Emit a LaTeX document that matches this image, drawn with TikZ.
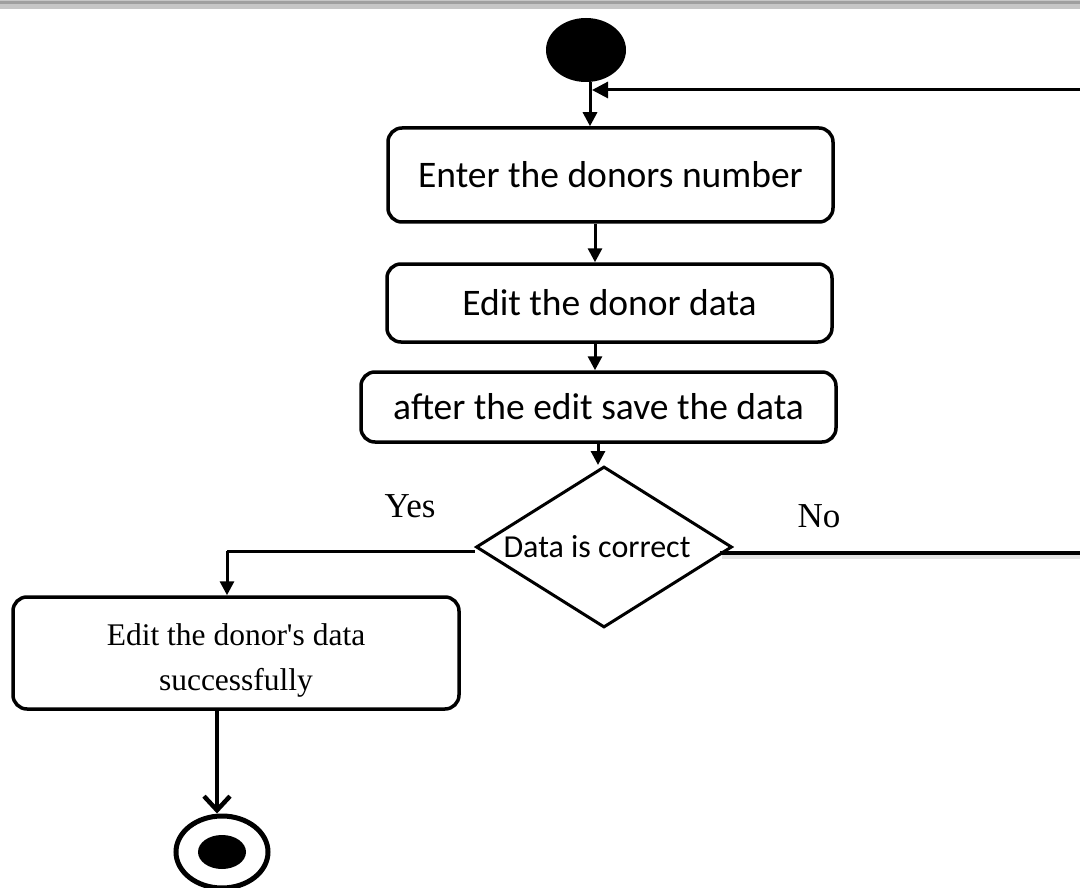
\documentclass[tikz,border=0pt]{standalone}
\usepackage{fontspec}
\setmainfont{Liberation Serif}
\newfontfamily\boxfont{Carlito}
\usetikzlibrary{shapes.geometric,arrows.meta,calc}
\tikzset{
  act/.style={draw=black, line width=3.5pt, rounded corners=14pt, fill=white,
    inner sep=0pt, align=center, font=\boxfont\fontsize{37.5}{44}\selectfont},
  flow/.style={line width=3pt, -{Triangle[length=14pt,width=14pt]}},
  plainline/.style={line width=3pt},
  decision/.style={draw=black, diamond, line width=3pt, shape aspect=1.6, inner sep=0pt,
    minimum width=256pt, minimum height=161pt, font=\boxfont\fontsize{32}{36}\selectfont},
  guard/.style={font=\fontsize{35}{38}\selectfont}
}
\begin{document}
\begin{tikzpicture}[x=1pt,y=-1pt]
\useasboundingbox (0,0) rectangle (1080,888);
\clip (0,0) rectangle (1080,888);
% top border band
\fill[gray!45] (0,0) rectangle (1080,9);
\fill[gray!75] (0,1) rectangle (1080,4);

\node[ellipse, fill=black, minimum width=80pt, minimum height=64pt, inner sep=0pt] (start) at (586,50) {};

\node[act, minimum width=445pt, minimum height=94pt] (b1) at (610.5,175) {Enter the donors number};
\node[act, minimum width=445pt, minimum height=78pt] (b2) at (609.5,303) {Edit the donor data};
\node[act, minimum width=475pt, minimum height=70pt] (b3) at (598.5,407) {after the edit save the data};
\node[decision] (d) at (604,547) {\hspace*{-14pt}Data is correct};
\node[act, minimum width=446pt, minimum height=112pt] (b4) at (236,653) {};
\node[align=center, inner sep=0pt, font=\fontsize{31.5}{45}\selectfont] (b4text) at (236,660) {Edit the donor\textquotesingle s data\\successfully};

\node[ellipse, draw=black, line width=5pt, minimum width=92pt, minimum height=72pt, inner sep=0pt] (end) at (222,852) {};
\node[ellipse, fill=black, minimum width=48pt, minimum height=34pt, inner sep=0pt] (endin) at (end.center) {};

% connectors
\draw[flow] (start.south -| 590,0) -- (b1.north -| 590,0);
\draw[flow] (b1.south -| 595,0) -- (b2.north -| 595,0);
\draw[flow] (b2.south -| 595,0) -- (b3.north -| 595,0);
\draw[flow] (b3.south -| 598,0) -- (d.north -| 598,0);

\coordinate (yesc) at (227,551);
\draw[plainline] (d.west |- yesc) -- (yesc);
\draw[flow] (yesc) -- (b4.north -| 227,0);

\coordinate (noend) at (1082,553);
\coordinate (nostart) at ($(d.east |- noend)+(-14,0)$);
\draw[line width=4pt, gray!22] ($(nostart)+(2,4)$) -- ($(noend)+(0,4)$);
\draw[line width=4pt] (nostart) -- (noend);

\coordinate (retstart) at (1082,90);
\draw[line width=3pt, -{Triangle[length=16pt,width=16pt]}] (retstart) -- (592,90);

\draw[line width=4.5pt, -{Straight Barb[length=14pt,width=26pt,line width=4.5pt]}] (b4.south -| 217,0) -- (end.north -| 217,0);

\node[guard] (yes) at (410,506) {Yes};
\node[guard] (no) at (819,516) {No};
\end{tikzpicture}
\end{document}
